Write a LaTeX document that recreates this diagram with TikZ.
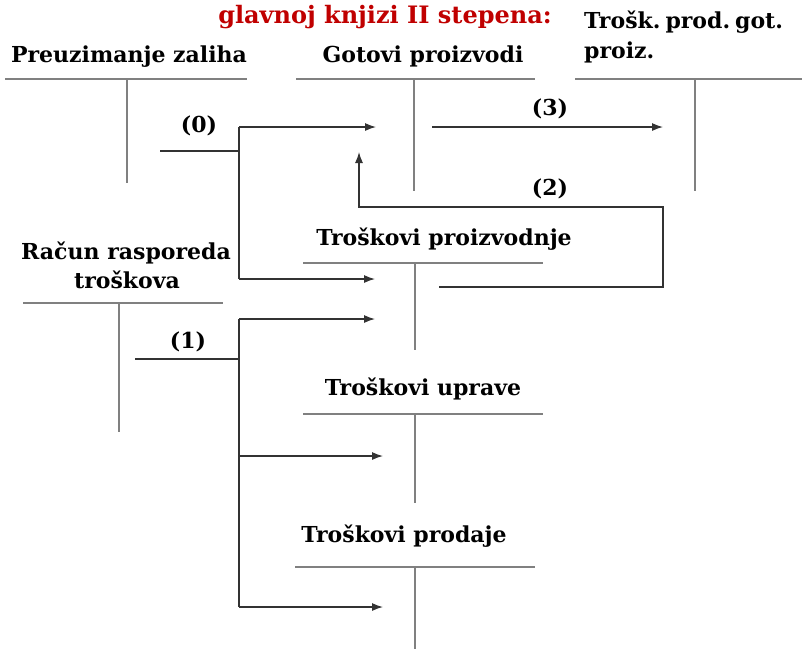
\documentclass[tikz,border=0pt]{standalone}
\usepackage{fontspec}
\setmainfont{DejaVu Serif}
\usetikzlibrary{arrows.meta}
\definecolor{tgray}{HTML}{808080}
\definecolor{cgray}{HTML}{333333}
\definecolor{tred}{HTML}{C00000}
\begin{document}
\begin{tikzpicture}[x=1pt,y=-1pt,
  tline/.style={draw=tgray,line width=1.6pt},
  conn/.style={draw=cgray,line width=1.2pt},
  arr/.style={conn,-{Latex[length=11pt,width=8pt]}},
  lbl/.style={font=\fontsize{22}{24}\selectfont\bfseries,inner sep=0pt,anchor=base},
]
\useasboundingbox (0,0) rectangle (802,649);

% texts
\node[lbl,text=tred,font=\fontsize{24}{26}\selectfont\bfseries] (title) at (385,23) {glavnoj knjizi II stepena:};
\node[lbl,anchor=base west] (tpg1) at (584,28) {Trošk.\hspace{5pt}prod.\hspace{5pt}got.};
\node[lbl,anchor=base west] (tpg2) at (584,58) {proiz.};
\node[lbl] (pz) at (129,62) {Preuzimanje zaliha};
\node[lbl] (gp) at (423,62) {Gotovi proizvodi};
\node[lbl] (tp) at (444,245) {Troškovi proizvodnje};
\node[lbl] (rr1) at (126,259) {Račun rasporeda};
\node[lbl] (rr2) at (127,288) {troškova};
\node[lbl] (tu) at (423,395) {Troškovi uprave};
\node[lbl] (tpr) at (404,542) {Troškovi prodaje};
\node[lbl] (l0) at (199,132) {(0)};
\node[lbl] (l3) at (550,115) {(3)};
\node[lbl] (l2) at (550,195) {(2)};
\node[lbl] (l1) at (188,348) {(1)};

% T-accounts
\coordinate (pzL) at (5,79);   \coordinate (pzR) at (247,79);
\coordinate (pzT) at (127,79); \coordinate (pzB) at (127,183);
\coordinate (gpL) at (296,79); \coordinate (gpR) at (535,79);
\coordinate (gpT) at (414,79); \coordinate (gpB) at (414,191);
\coordinate (tgL) at (575,79); \coordinate (tgR) at (802,79);
\coordinate (tgT) at (695,79); \coordinate (tgB) at (695,191);
\coordinate (tpL) at (303,263); \coordinate (tpR) at (543,263);
\coordinate (tpT) at (415,263); \coordinate (tpB) at (415,350);
\coordinate (rrL) at (23,303); \coordinate (rrR) at (223,303);
\coordinate (rrT) at (119,303); \coordinate (rrB) at (119,432);
\coordinate (tuL) at (303,414); \coordinate (tuR) at (543,414);
\coordinate (tuT) at (415,414); \coordinate (tuB) at (415,503);
\coordinate (tsL) at (295,567); \coordinate (tsR) at (535,567);
\coordinate (tsT) at (415,567); \coordinate (tsB) at (415,649);
\foreach \a in {pz,gp,tg,tp,rr,tu,ts}{
  \draw[tline] (\a L) -- (\a R);
  \draw[tline] (\a T) -- (\a B);
}

% connector points
\coordinate (s0a) at (160,151); \coordinate (s0b) at (239,151);
\coordinate (v0t) at (239,127); \coordinate (v0b) at (239,279);
\coordinate (a0gp) at (376,127); \coordinate (a0tp) at (375,279);
\coordinate (a3s) at (432,127); \coordinate (a3e) at (663,127);
\coordinate (b2a) at (439,287); \coordinate (b2b) at (663,287);
\coordinate (b2c) at (663,207); \coordinate (b2d) at (359,207);
\coordinate (b2e) at (359,152);
\coordinate (s1a) at (135,359); \coordinate (s1b) at (239,359);
\coordinate (v1t) at (239,319); \coordinate (v1m) at (239,456);
\coordinate (v1b) at (239,607);
\coordinate (a1tp) at (375,319); \coordinate (a1tu) at (383,456);
\coordinate (a1ts) at (383,607);

% (0)
\draw[conn] (s0a) -- (s0b);
\draw[conn] (v0t) -- (v0b);
\draw[arr] (v0t) -- (a0gp);
\draw[arr] (v0b) -- (a0tp);
% (3)
\draw[arr] (a3s) -- (a3e);
% (2)
\draw[arr] (b2a) -- (b2b) -- (b2c) -- (b2d) -- (b2e);
% (1)
\draw[conn] (s1a) -- (s1b);
\draw[conn] (v1t) -- (v1b);
\draw[arr] (v1t) -- (a1tp);
\draw[arr] (v1m) -- (a1tu);
\draw[arr] (v1b) -- (a1ts);
\end{tikzpicture}
\end{document}
